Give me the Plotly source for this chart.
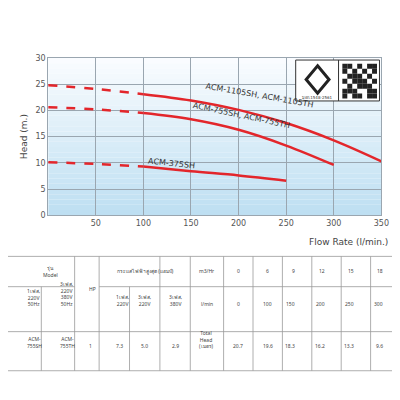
import plotly.graph_objects as go

# pump curves (flow l/min, head m)
q_dash = [0, 50, 100]
h1105_dash = [24.8, 24.1, 23.1]
h755_dash = [20.6, 20.2, 19.5]
h375_dash = [10.1, 9.8, 9.3]

q1105 = [100, 150, 200, 250, 300, 350]
h1105 = [23.1, 21.9, 20.1, 17.6, 14.3, 10.3]
q755 = [100, 150, 200, 250, 300]
h755 = [19.5, 18.3, 16.3, 13.3, 9.6]
q375 = [100, 150, 200, 250]
h375 = [9.3, 8.4, 7.6, 6.6]

# table
flow_m3 = ["0", "6", "9", "12", "15", "18"]
flow_lpm = ["0", "100", "150", "200", "250", "300"]
total_head = ["20.7", "19.6", "18.3", "16.2", "13.3", "9.6"]
amps = ["7.3", "5.0", "2.9"]

RED = "#e3262b"
fig = go.Figure()

# background gradient
n = 30
for i in range(n):
    t = i / n
    r = int(250 - t * (250 - 188))
    g = int(252 - t * (252 - 222))
    b = int(255 - t * (255 - 242))
    fig.add_shape(type="rect", xref="x", yref="y", x0=0, x1=350,
                  y0=30 - (i + 1) * 30 / n, y1=30 - i * 30 / n,
                  fillcolor=f"rgb({r},{g},{b})", line_width=0, layer="below")

for q, h in [(q_dash, h1105_dash), (q_dash, h755_dash), (q_dash, h375_dash)]:
    fig.add_trace(go.Scatter(x=q, y=h, mode="lines", line=dict(color=RED, width=2.5, dash="dash", shape="spline")))
for q, h in [(q1105, h1105), (q755, h755), (q375, h375)]:
    fig.add_trace(go.Scatter(x=q, y=h, mode="lines", line=dict(color=RED, width=2.5, shape="spline")))

lbl = dict(font=dict(size=8, color="#333", family="DejaVu Sans"), showarrow=False, xref="x", yref="y")
fig.add_annotation(x=222, y=22.9, text="ACM-1105SH, ACM-1105TH", textangle=10, **lbl)
fig.add_annotation(x=203, y=19.1, text="ACM-755SH, ACM-755TH", textangle=12, **lbl)
fig.add_annotation(x=130, y=9.9, text="ACM-375SH", textangle=6, **lbl)

# certification logo + QR
fig.add_shape(type="rect", xref="x", yref="y", x0=260, x1=348, y0=21.8, y1=29.6,
              fillcolor="white", line=dict(color="#333", width=1))
fig.add_shape(type="line", xref="x", yref="y", x0=305, x1=305, y0=21.8, y1=29.6, line=dict(color="#333", width=1))
fig.add_shape(type="path", xref="x", yref="y",
              path="M 283 28.5 L 295 25.9 L 283 23.3 L 271 25.9 Z", line=dict(color="#222", width=3))
fig.add_annotation(x=282.5, y=22.4, text="มอก.1548-2561", font=dict(size=4, color="#333"),
                   showarrow=False, xref="x", yref="y")
qr = ["1101011", "1010101", "0111010", "1011101", "0101110", "1110011", "1011011"]
for r, row in enumerate(qr):
    for c, v in enumerate(row):
        if v == "1":
            fig.add_shape(type="rect", xref="x", yref="y",
                          x0=309 + c * 5.2, x1=309 + (c + 1) * 5.2,
                          y0=28.9 - (r + 1) * 0.95, y1=28.9 - r * 0.95,
                          fillcolor="#222", line_width=0)

fig.add_annotation(x=0.975, y=1 - 235 / 400, xref="paper", yref="paper", yanchor="middle", xanchor="right",
                   text="Flow Rate (l/min.)", showarrow=False, font=dict(size=9, color="#444"))

# table lines
P = lambda px: px / 400
cols = [0, 34, 68, 93, 124, 155, 186, 220, 250, 280, 310, 340, 370, 400]
tl = dict(color="#999", width=0.8)
def hline(y, x0, x1):
    fig.add_shape(type="line", xref="paper", yref="paper", x0=P(x0), x1=P(x1), y0=1 - P(y), y1=1 - P(y), line=tl)
def vline(x, y0, y1):
    fig.add_shape(type="line", xref="paper", yref="paper", x0=P(x), x1=P(x), y0=1 - P(y0), y1=1 - P(y1), line=tl)
hline(250, 0, 400); hline(367, 0, 400); hline(327, 0, 400)
hline(281, 0, 68); hline(281, 93, 400)
for x in [68, 93, 155, 186, 220, 250, 280, 310, 340, 370]:
    vline(x, 250, 367)
for x in [34, 124]:
    vline(x, 281, 367)

def cell(xc, yc, text):
    fig.add_annotation(x=P(xc), y=1 - P(yc), xref="paper", yref="paper", text=text, showarrow=False,
                       font=dict(size=5, color="#444", family="Noto Sans"))
cell(34, 265, "รุ่น<br>Model")
cell(17, 304, "1เฟส,<br>220V<br>50Hz")
cell(51, 304, "3เฟส,<br>220V<br>380V<br>50Hz")
cell(80.5, 288, "HP")
cell(140, 265, "กระแสไฟฟ้าสูงสุด (แอมป์)")
cell(108.5, 304, "1เฟส,<br>220V")
cell(139.5, 304, "3เฟส,<br>220V")
cell(170.5, 304, "3เฟส,<br>380V")
cell(203, 265, "m3/Hr")
cell(203, 304, "l/min")
cell(203, 347, "Total<br>Head<br>(เมตร)")
cell(17, 347, "ACM-<br>755SH")
cell(51, 347, "ACM-<br>755TH")
cell(80.5, 347, "1")
for i, a in enumerate(amps):
    cell((cols[3 + i] + cols[4 + i]) / 2, 347, a)
for i in range(6):
    xc = (cols[7 + i] + cols[8 + i]) / 2
    cell(xc, 265, flow_m3[i]); cell(xc, 304, flow_lpm[i]); cell(xc, 347, total_head[i])

ax = dict(showgrid=True, gridcolor="#9aa6b0", gridwidth=1, zeroline=False, showline=True,
          linecolor="#9aa6b0", mirror=True, tickfont=dict(size=8, color="#555"))
fig.update_layout(
    width=400, height=400, margin=dict(l=0, r=0, t=0, b=0), showlegend=False,
    paper_bgcolor="white", plot_bgcolor="white", font=dict(family="DejaVu Sans"),
    xaxis=dict(domain=[41 / 400, 381 / 400], range=[0, 350], tickvals=[50, 100, 150, 200, 250, 300, 350], **ax),
    yaxis=dict(domain=[1 - 208 / 400, 1 - 47 / 400], range=[0, 30], dtick=5,
               title=dict(text="Head (m.)", font=dict(size=9, color="#444"), standoff=6), **ax),
)
fig.write_html("out.html")
